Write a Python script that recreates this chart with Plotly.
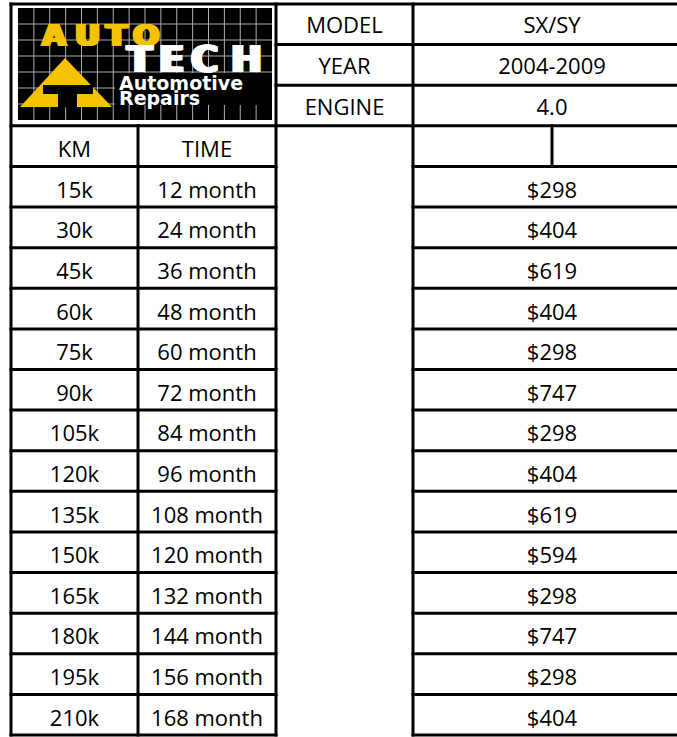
import plotly.graph_objects as go

# ---------------- data ----------------
header_labels = ["MODEL", "YEAR", "ENGINE"]
header_values = ["SX/SY", "2004-2009", "4.0"]
col_titles = ["KM", "TIME"]
km_labels = ["15k", "30k", "45k", "60k", "75k", "90k", "105k", "120k",
             "135k", "150k", "165k", "180k", "195k", "210k"]
time_labels = ["12 month", "24 month", "36 month", "48 month", "60 month",
               "72 month", "84 month", "96 month", "108 month", "120 month",
               "132 month", "144 month", "156 month", "168 month"]
prices = [298, 404, 619, 404, 298, 747, 298, 404, 619, 594, 298, 747, 298, 404]

# ---------------- layout geometry ----------------
W, H = 677, 737
col_edges = [11, 138, 276, 413, 552, 691]
top, bottom = 4, 735
n_head = len(header_labels)
n_rows = n_head + 1 + len(prices)
rh = (bottom - top) / n_rows
DY_HEAD, DY_BODY = 3.5, 5.5   # text sits slightly low in its cell


def ry(i):
    return top + i * rh


def rc(i):
    return top + (i + 0.5) * rh


def cc(a, b):
    return (col_edges[a] + col_edges[b]) / 2


FONT = dict(family="Open Sans, Liberation Sans, sans-serif", size=22, color="black")
LW = 3

fig = go.Figure()

# ---------------- text through axes ----------------
fig.add_trace(go.Scatter(
    x=[cc(2, 3)] * n_head, y=[rc(i) + DY_HEAD for i in range(n_head)],
    text=header_labels, mode="text", textfont=FONT, hoverinfo="skip"))
fig.add_trace(go.Scatter(
    x=[cc(3, 5)] * n_head, y=[rc(i) + DY_HEAD for i in range(n_head)],
    text=header_values, mode="text", textfont=FONT, hoverinfo="skip"))
fig.add_trace(go.Scatter(
    x=[cc(0, 1), cc(1, 2)], y=[rc(n_head) + DY_BODY] * 2,
    text=col_titles, mode="text", textfont=FONT, hoverinfo="skip"))
body_rows = [rc(n_head + 1 + i) + DY_BODY for i in range(len(prices))]
fig.add_trace(go.Scatter(x=[cc(0, 1)] * len(km_labels), y=body_rows,
                         text=km_labels, mode="text", textfont=FONT, hoverinfo="skip"))
fig.add_trace(go.Scatter(x=[cc(1, 2)] * len(time_labels), y=body_rows,
                         text=time_labels, mode="text", textfont=FONT, hoverinfo="skip"))
fig.add_trace(go.Scatter(x=[cc(3, 5)] * len(prices), y=body_rows,
                         text=[f"${p}" for p in prices], mode="text",
                         textfont=FONT, hoverinfo="skip"))

shapes = []


def hline(y, x0, x1):
    shapes.append(dict(type="line", x0=x0 - 1.5, x1=x1 + 1.5, y0=y, y1=y,
                       xref="x", yref="y", line=dict(color="black", width=LW)))


def vline(x, y0, y1):
    shapes.append(dict(type="line", x0=x, x1=x, y0=y0 - 1.5, y1=y1 + 1.5,
                       xref="x", yref="y", line=dict(color="black", width=LW)))


# ---------------- logo ----------------
lx0, ly0, lx1, ly1 = 18, 8, 272, 120
YEL = "#F4C300"
shapes.append(dict(type="rect", x0=lx0, x1=lx1, y0=ly0, y1=ly1, xref="x", yref="y",
                   fillcolor="black", line=dict(width=0)))
ncx, ncy = 16, 7
for k in range(1, ncx):
    gx = lx0 + k * (lx1 - lx0) / ncx
    shapes.append(dict(type="line", x0=gx, x1=gx, y0=ly0, y1=ly1, xref="x", yref="y",
                       line=dict(color="#b0b0b0", width=1)))
for k in range(1, ncy):
    gy = ly0 + k * (ly1 - ly0) / ncy
    shapes.append(dict(type="line", x0=lx0, x1=lx1, y0=gy, y1=gy, xref="x", yref="y",
                       line=dict(color="#b0b0b0", width=1)))
# black box behind "Automotive Repairs"
shapes.append(dict(type="rect", x0=115, x1=272, y0=73, y1=105, xref="x", yref="y",
                   fillcolor="black", line=dict(width=0)))
# triangle with T
shapes.append(dict(type="path", path="M 20,107 L 65,58 L 112,107 Z", xref="x", yref="y",
                   fillcolor=YEL, line=dict(width=0)))
shapes.append(dict(type="rect", x0=43, x1=93, y0=85, y1=94, xref="x", yref="y",
                   fillcolor="black", line=dict(width=0)))
shapes.append(dict(type="rect", x0=58, x1=77, y0=93.5, y1=107.5, xref="x", yref="y",
                   fillcolor="black", line=dict(width=0)))


def widen(color, px):
    parts = []
    for d in range(1, px + 1):
        parts.append(f"{d}px 0px 0px {color}")
        parts.append(f"-{d}px 0px 0px {color}")
    return ", ".join(parts)


annotations = []
for cx, ch in zip([54, 87, 116, 146], "AUTO"):
    annotations.append(dict(x=cx, y=35, xref="x", yref="y", text=f"<b>{ch}</b>",
                            showarrow=False, xanchor="center", yanchor="middle",
                            font=dict(family="DejaVu Sans", size=31, color=YEL,
                                      shadow=widen(YEL, 2))))
for cx, ch in zip([140, 171, 204, 246], "TECH"):
    annotations.append(dict(x=cx, y=59.5, xref="x", yref="y", text=f"<b>{ch}</b>",
                            showarrow=False, xanchor="center", yanchor="middle",
                            font=dict(family="DejaVu Sans", size=37, color="white",
                                      shadow=widen("white", 2))))
annotations.append(dict(x=117, y=82.5, xref="x", yref="y", text="<b>Automotive</b>",
                        showarrow=False, xanchor="left", yanchor="middle",
                        font=dict(family="DejaVu Sans", size=19, color="white")))
annotations.append(dict(x=117, y=97.5, xref="x", yref="y", text="<b>Repairs</b>",
                        showarrow=False, xanchor="left", yanchor="middle",
                        font=dict(family="DejaVu Sans", size=19, color="white")))

# ---------------- grid lines ----------------
xl, x1c, xg0, xg1, xs, xr = col_edges
vline(xl, top, bottom)
vline(x1c, ry(n_head), bottom)
vline(xg0, top, bottom)
vline(xg1, top, bottom)
vline(xs, ry(n_head), ry(n_head + 1))
vline(xr, top, bottom)
hline(top, xl, xr)
for i in range(1, n_head):
    hline(ry(i), xg0, xr)
hline(ry(n_head), xl, xr)
for i in range(n_head + 1, n_rows + 1):
    hline(ry(i), xl, xg0)
    hline(ry(i), xg1, xr)

fig.update_layout(
    width=W, height=H, margin=dict(l=0, r=0, t=0, b=0),
    paper_bgcolor="white", plot_bgcolor="white", showlegend=False,
    xaxis=dict(range=[0, W], visible=False, fixedrange=True),
    yaxis=dict(range=[H, 0], visible=False, fixedrange=True),
    shapes=shapes, annotations=annotations,
)

post = ("document.body.style.margin='0';document.body.style.padding='0';"
        "document.body.style.overflow='hidden';"
        "var gd=document.getElementById('{plot_id}');"
        "Plotly.relayout(gd,{width:677,height:737});")

fig.write_html("out.html", post_script=post,
               config={"displayModeBar": False, "responsive": False})
